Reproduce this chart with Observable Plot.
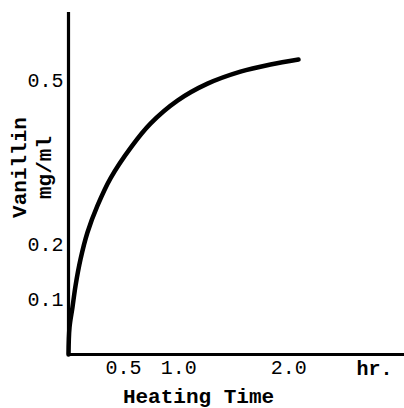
<!DOCTYPE html>
<html>
<head>
<meta charset="utf-8">
<script src="https://cdn.jsdelivr.net/npm/d3@7"></script>
<script src="https://cdn.jsdelivr.net/npm/@observablehq/plot@0.6"></script>
<style>
  html, body { margin: 0; padding: 0; background: #fff; }
</style>
</head>
<body>
<script>
// Heating time (hr) and vanillin concentration (mg/ml)
const heatingTime = [0, 0.009, 0.036, 0.064, 0.109, 0.172, 0.263, 0.381, 0.572, 0.744, 0.989, 1.262, 1.561, 1.834, 2.088];
const vanillin    = [0, 0.049, 0.086, 0.126, 0.174, 0.223, 0.272, 0.322, 0.380, 0.422, 0.464, 0.495, 0.517, 0.530, 0.539];

const xTicks = [0.5, 1.0, 2.0];
const yTicks = [0.1, 0.2, 0.5];
const xTitle = "Heating Time";
const xUnit = "hr.";
const yTitleLines = ["Vanillin", "mg/ml"];

const data = heatingTime.map((t, i) => ({t, v: vanillin[i]}));
const font = "'Liberation Mono', 'DejaVu Sans Mono', monospace";

const chart = Plot.plot({
  width: 404,
  height: 408,
  marginLeft: 68,
  marginRight: 0,
  marginTop: 12,
  marginBottom: 54,
  style: {fontFamily: font, fontSize: "20px", background: "#fff", color: "#000"},
  x: {domain: [0, 3.05]},
  y: {domain: [0, 0.625]},
  marks: [
    Plot.axisX({ticks: xTicks, tickFormat: d3.format(".1f"), tickSize: 0, tickPadding: 5, label: null}),
    Plot.axisY({ticks: yTicks, tickFormat: d3.format(".1f"), tickSize: 0, tickPadding: 5, label: null}),
    Plot.ruleX([0], {stroke: "#000", strokeWidth: 3.2}),
    Plot.ruleY([0], {stroke: "#000", strokeWidth: 3.2}),
    Plot.line(data, {x: "t", y: "v", stroke: "#000", strokeWidth: 4.5, curve: "catmull-rom", strokeLinecap: "round"}),
    Plot.text([xUnit], {text: d => d, frameAnchor: "bottom-right", textAnchor: "middle", dx: -30, dy: 14, lineAnchor: "middle",
      fontSize: 20, fontWeight: "bold", fontFamily: font, fill: "#000"}),
    Plot.text([xTitle], {text: d => d, frameAnchor: "bottom", textAnchor: "middle", dx: -38, dy: 42, lineAnchor: "middle",
      fontSize: 21, fontWeight: "bold", fontFamily: font, fill: "#000"}),
    Plot.text([yTitleLines.join("\n")], {text: d => d, frameAnchor: "left", textAnchor: "middle", rotate: -90, dx: -38, dy: -16,
      lineAnchor: "middle", lineHeight: 1.2, fontSize: 21, fontWeight: "bold", fontFamily: font, fill: "#000"})
  ]
});
document.body.appendChild(chart);
</script>
</body>
</html>
